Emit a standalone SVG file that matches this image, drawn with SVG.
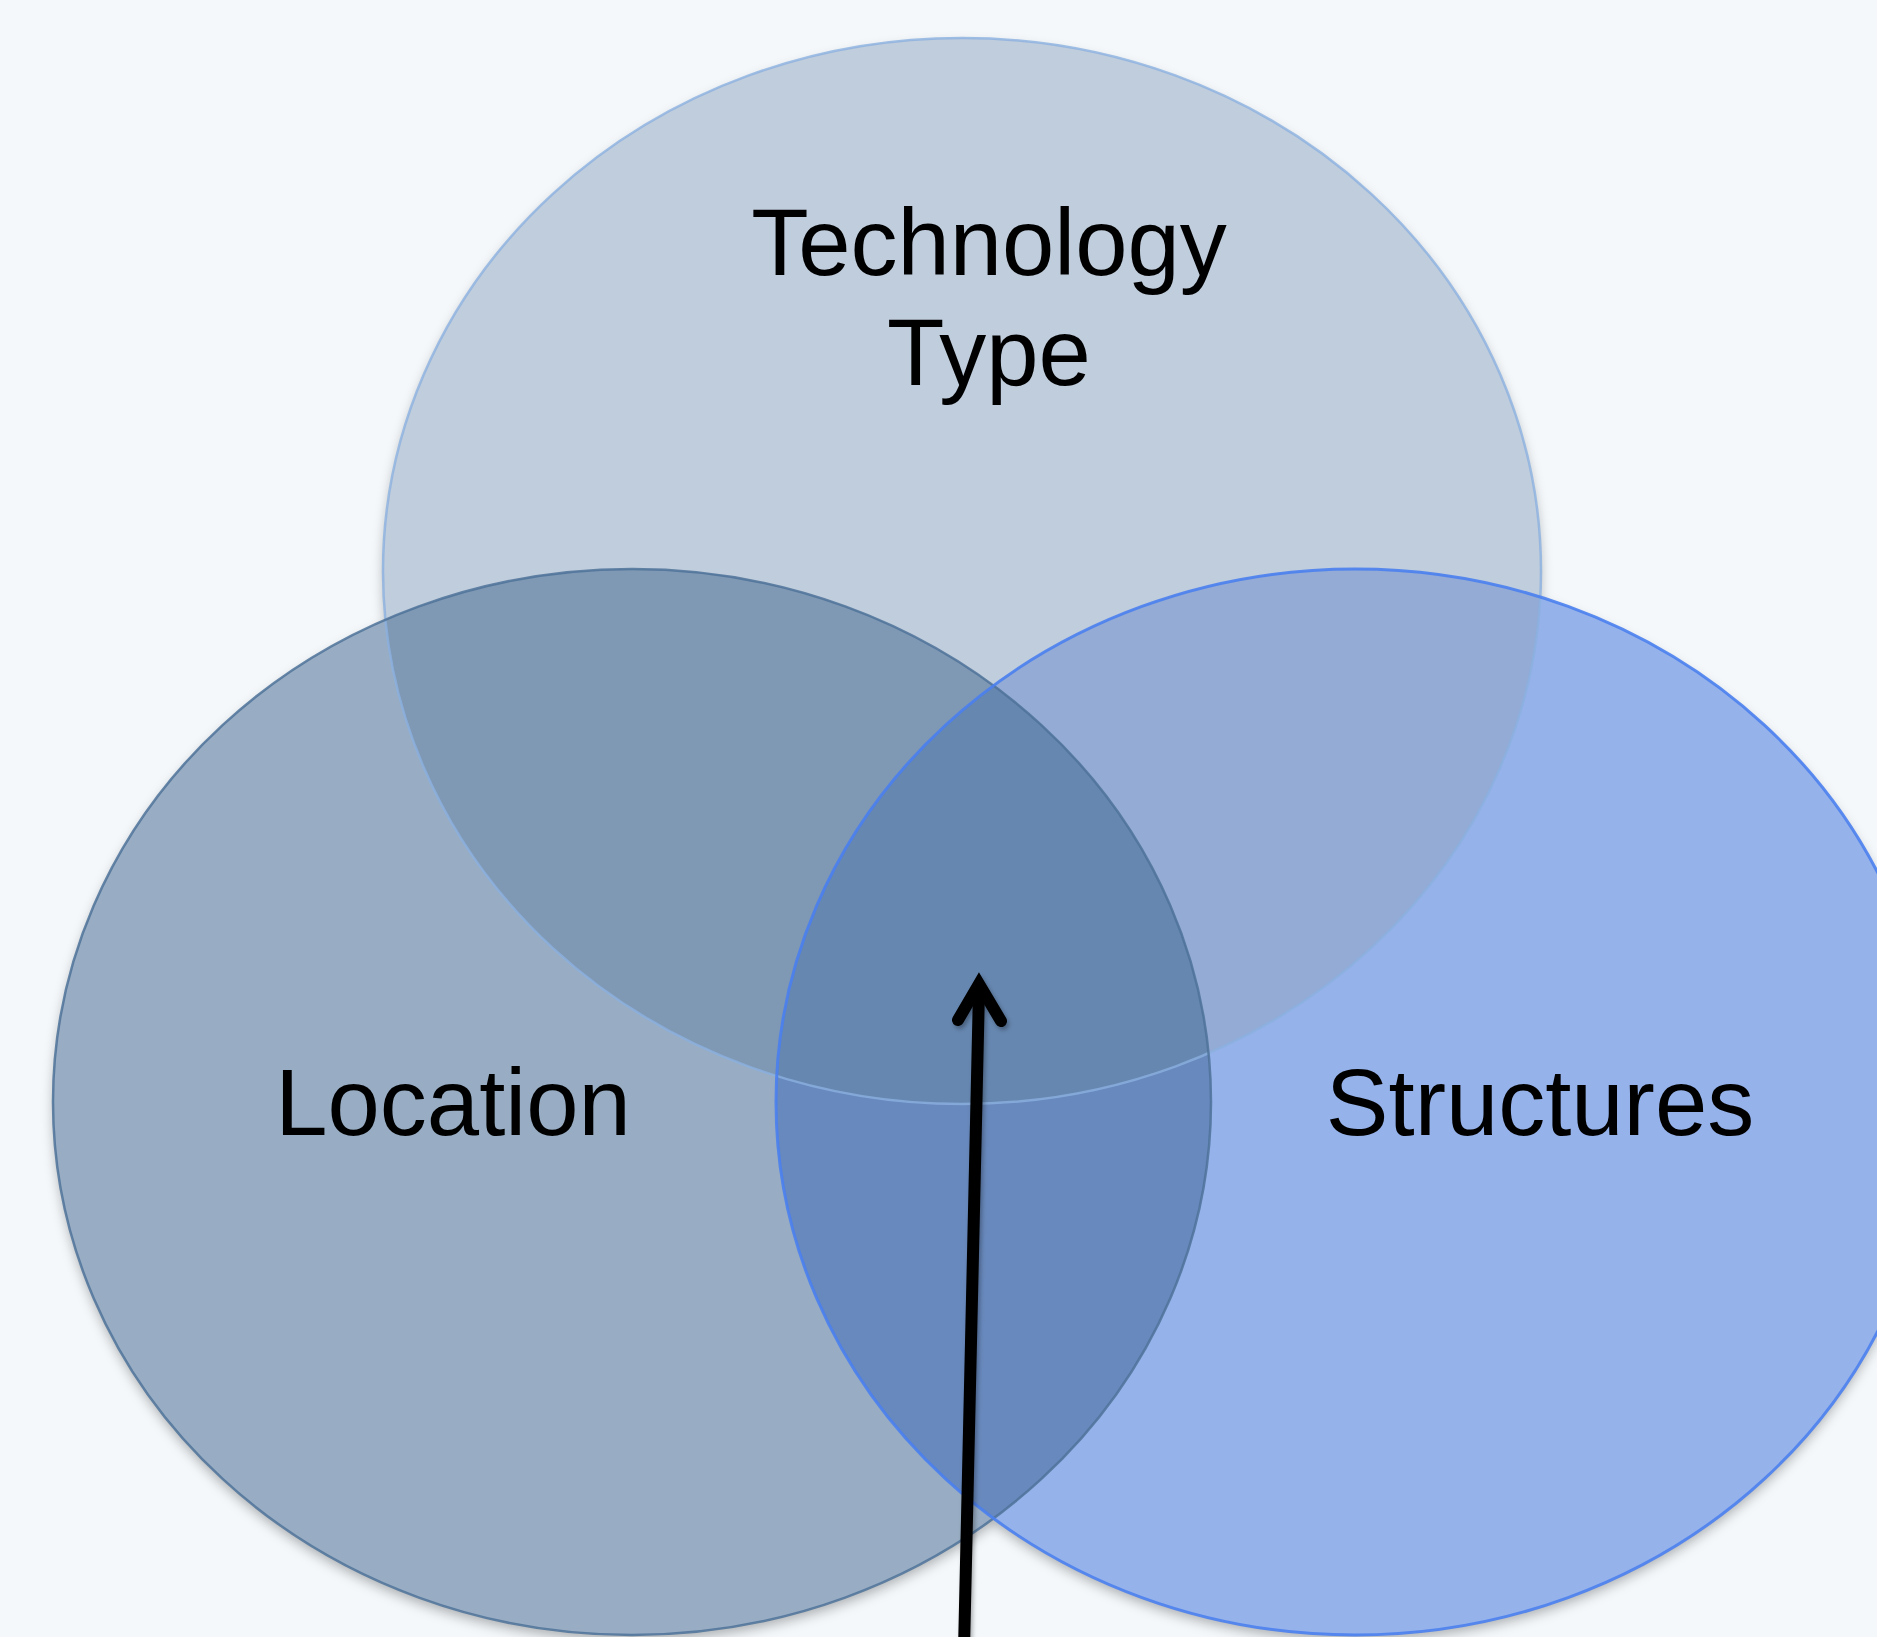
<svg xmlns="http://www.w3.org/2000/svg" width="1877" height="1637" viewBox="0 0 1877 1637">
<style>
.lbl{font-family:"Liberation Sans",Arial,Helvetica,sans-serif;font-size:94px;fill:#000;text-anchor:middle}
.arr{fill:none;stroke:#000;stroke-width:12;stroke-linecap:round}
</style>
<defs>
<clipPath id="cT"><ellipse cx="962" cy="571" rx="579" ry="533"/></clipPath>
<clipPath id="cL"><ellipse cx="632" cy="1102" rx="579" ry="533"/></clipPath>
<filter id="sh" x="-10%" y="-10%" width="120%" height="125%">
<feDropShadow dx="0" dy="6" stdDeviation="6" flood-color="#000" flood-opacity="0.28"/>
</filter>
<filter id="ls" x="-50%" y="-5%" width="200%" height="110%">
<feDropShadow dx="2" dy="3" stdDeviation="2" flood-color="#000" flood-opacity="0.3"/>
</filter>
</defs>
<rect width="1877" height="1637" fill="#f4f8fb"/>
<g id="fills" filter="url(#sh)">
<ellipse cx="962" cy="571" rx="579" ry="533" fill="#c0cddc"/>
<ellipse cx="632" cy="1102" rx="579" ry="533" fill="#98adc3"/>
<ellipse cx="1355" cy="1102" rx="579" ry="533" fill="#96b2ea"/>
<ellipse cx="632" cy="1102" rx="579" ry="533" fill="#7f98b4" clip-path="url(#cT)"/>
<ellipse cx="1355" cy="1102" rx="579" ry="533" fill="#93abd5" clip-path="url(#cT)"/>
<ellipse cx="1355" cy="1102" rx="579" ry="533" fill="#6889bd" clip-path="url(#cL)"/>
<g clip-path="url(#cT)"><ellipse cx="1355" cy="1102" rx="579" ry="533" fill="#6687b0" clip-path="url(#cL)"/></g>
</g>
<g id="tech">
<ellipse cx="962" cy="571" rx="579" ry="533" fill="none" stroke="#8bb0e0" stroke-width="2.5" stroke-opacity="0.8"/>
<text class="lbl" x="989" y="275">Technology</text>
<text class="lbl" x="989" y="385">Type</text>
</g>
<g id="location">
<ellipse cx="632" cy="1102" rx="579" ry="533" fill="none" stroke="#4d7299" stroke-width="2.5" stroke-opacity="0.85"/>
<text class="lbl" x="453" y="1135">Location</text>
</g>
<g id="structures">
<ellipse cx="1355" cy="1102" rx="579" ry="533" fill="none" stroke="#4a80ee" stroke-width="3" stroke-opacity="0.9"/>
<text class="lbl" x="1540" y="1135">Structures</text>
</g>
<g id="connectors" filter="url(#ls)">
<line class="arr" x1="964" y1="1650" x2="979" y2="990" stroke-linecap="butt"/>
<polyline class="arr" points="958,1020 979,984 1001,1021" stroke-linejoin="miter" stroke-miterlimit="10"/>
</g>
</svg>
